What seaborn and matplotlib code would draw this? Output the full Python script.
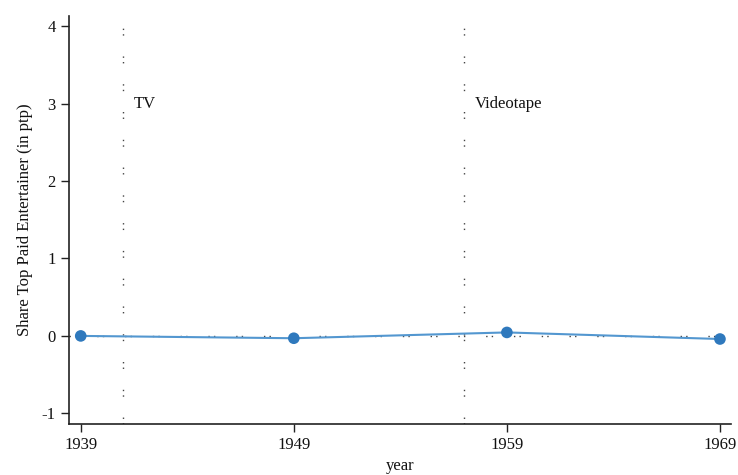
import matplotlib
matplotlib.use("Agg")
import matplotlib.pyplot as plt
import seaborn as sns
import pandas as pd

years = [1939, 1949, 1959, 1969]
share = [0.0, -0.03, 0.045, -0.04]
event_years = [1941, 1957]
event_labels = ["TV", "Videotape"]
xticks = [1939, 1949, 1959, 1969]
yticks = [-1, 0, 1, 2, 3, 4]

sns.set_theme(style="ticks")
plt.rcParams["font.family"] = ["Liberation Serif", "DejaVu Serif"]
plt.rcParams["lines.scale_dashes"] = False

df = pd.DataFrame({"year": years, "share": share})

fig = plt.figure(figsize=(7.38, 4.75), dpi=100)
ax = fig.add_axes([0.0935, 0.107, 0.8965, 0.859])

dots = (0, (1, 3, 1, 15))
ax.axhline(0, color="#444444", lw=1.0, linestyle=dots, zorder=1)
for ey, lab in zip(event_years, event_labels):
    ax.axvline(ey, color="#444444", lw=1.0, linestyle=dots, zorder=1)
    ax.text(ey + 0.5, 3.0, lab, fontsize=12, va="center", ha="left", color="#111111")

sns.lineplot(data=df, x="year", y="share", ax=ax, color="#5397d0", lw=1.5, zorder=2)
sns.scatterplot(data=df, x="year", y="share", ax=ax, color="#2f79bd", s=70,
                edgecolor="none", zorder=3)

ax.set_xlim(1938.45, 1969.5)
ax.set_ylim(-1.14, 4.13)
ax.set_xticks(xticks)
ax.set_xticklabels([str(t) for t in xticks])
ax.set_yticks(yticks)
ax.set_yticklabels([str(t) for t in yticks])
ax.tick_params(axis="both", labelsize=12, length=6, width=1, colors="#222222", labelcolor="#111111")
ax.set_xlabel("year", fontsize=12, color="#111111", labelpad=3)
ax.set_ylabel("Share Top Paid Entertainer (in ptp)", fontsize=12, color="#111111", labelpad=6)
for s in ["top", "right"]:
    ax.spines[s].set_visible(False)
for s in ["left", "bottom"]:
    ax.spines[s].set_color("#222222")
    ax.spines[s].set_linewidth(1.2)
ax.set_facecolor("white")
fig.patch.set_facecolor("white")

fig.savefig("out.png", dpi=100)
